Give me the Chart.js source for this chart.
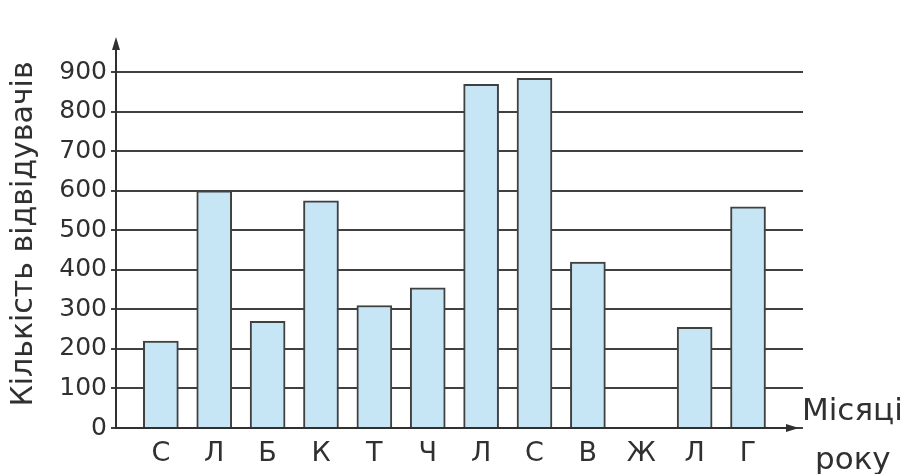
<!DOCTYPE html>
<html>
<head>
<meta charset="utf-8">
<script src="https://cdn.jsdelivr.net/npm/chart.js@4/dist/chart.umd.min.js"></script>
<style>
  html, body { margin: 0; padding: 0; background: #ffffff; }
  #wrap { width: 907px; height: 474px; position: relative; }
</style>
</head>
<body>
<div id="wrap"><canvas id="c" width="907" height="474"></canvas></div>
<script>
const months = ['С', 'Л', 'Б', 'К', 'Т', 'Ч', 'Л', 'С', 'В', 'Ж', 'Л', 'Г'];
const visitors = [220, 600, 270, 575, 310, 355, 870, 885, 420, null, 255, 560];
const yTicks = [0, 100, 200, 300, 400, 500, 600, 700, 800, 900];
const yTitle = 'Кількість відвідувачів';
const xTitleLines = ['Місяці', 'року'];

const INK = '#303030';
const FONT = "'DejaVu Sans', 'Liberation Sans', Arial, sans-serif";

const axesPlugin = {
  id: 'axesArrows',
  afterDatasetsDraw(chart) {
    const { ctx, chartArea } = chart;
    const x0 = chart.scales.x.left;
    const yZero = chart.scales.y.getPixelForValue(0);
    const top = chartArea.top;
    ctx.save();
    ctx.strokeStyle = INK;
    ctx.fillStyle = INK;
    ctx.lineWidth = 2;
    // y axis
    ctx.beginPath();
    ctx.moveTo(x0, yZero + 1);
    ctx.lineTo(x0, top + 6);
    ctx.stroke();
    ctx.beginPath();
    ctx.moveTo(x0, top - 3);
    ctx.lineTo(x0 - 4, top + 10);
    ctx.lineTo(x0 + 4, top + 10);
    ctx.closePath();
    ctx.fill();
    // x axis
    const xEnd = chartArea.right - 6;
    ctx.beginPath();
    ctx.moveTo(x0, yZero);
    ctx.lineTo(xEnd - 8, yZero);
    ctx.stroke();
    ctx.beginPath();
    ctx.moveTo(xEnd + 2, yZero);
    ctx.lineTo(xEnd - 11, yZero - 4);
    ctx.lineTo(xEnd - 11, yZero + 4);
    ctx.closePath();
    ctx.fill();
    // x title
    ctx.font = '31px ' + FONT;
    ctx.textBaseline = 'middle';
    ctx.textAlign = 'left';
    ctx.fillText(xTitleLines[0], chartArea.right - 1, yZero - 16);
    ctx.fillText(xTitleLines[1], chartArea.right + 12, yZero + 33);
    ctx.restore();
  }
};

new Chart(document.getElementById('c'), {
  type: 'bar',
  data: {
    datasets: [{
      data: visitors.map((v, i) => ({ x: i, y: v })),
      backgroundColor: '#c6e6f6',
      borderColor: '#404040',
      borderWidth: 2,
      barThickness: 35
    }]
  },
  options: {
    responsive: false,
    animation: false,
    layout: { padding: { left: 0, right: 104, top: 40, bottom: 0 } },
    plugins: { legend: { display: false }, tooltip: { enabled: false } },
    scales: {
      x: {
        type: 'linear',
        offset: false,
        min: -0.84,
        max: 12.03,
        afterBuildTicks: (s) => { s.ticks = months.map((m, i) => ({ value: i })); },
        afterFit: (s) => { s.height = 46; },
        ticks: {
          autoSkip: false,
          maxRotation: 0,
          padding: 10,
          color: INK,
          font: { family: FONT, size: 27 },
          callback: (v) => months[v]
        },
        grid: { display: false, drawTicks: false },
        border: { display: false }
      },
      y: {
        type: 'linear',
        min: 0,
        max: 982,
        afterBuildTicks: (s) => { s.ticks = yTicks.map(v => ({ value: v })); },
        afterFit: (s) => { s.width = 116; },
        ticks: {
          padding: 4,
          color: INK,
          font: { family: FONT, size: 25 }
        },
        grid: { color: '#404040', lineWidth: 2, drawTicks: true, tickLength: 5 },
        border: { display: false },
        title: {
          display: true,
          text: yTitle,
          color: INK,
          font: { family: FONT, size: 30 },
          padding: { top: 6, bottom: 0 }
        }
      }
    }
  },
  plugins: [axesPlugin]
});
</script>
</body>
</html>
